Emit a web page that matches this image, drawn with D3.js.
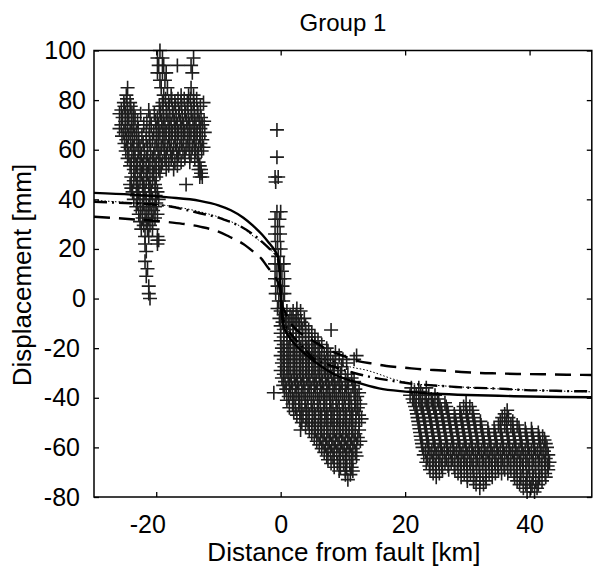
<!DOCTYPE html>
<html>
<head>
<meta charset="utf-8">
<script src="https://cdn.jsdelivr.net/npm/d3@7"></script>
<style>
  body { margin: 0; background: #fff; }
  text { font-family: "Liberation Sans", Arial, sans-serif; fill: #000; }
</style>
</head>
<body>
<svg id="chart" width="593" height="572"></svg>
<script>
// axis ticks
var xTicks = [-20, 0, 20, 40];
var yTicks = [-80, -60, -40, -20, 0, 20, 40, 60, 80, 100];

// model curves
var solidX = [-30, -24, -18, -13, -10, -8, -6, -4.5, -3, -2, -1, -0.4, -0.15, 0, 0.15, 0.4, 1, 2, 3.5, 5.5, 8.8, 12, 15.8, 20, 25, 30, 35, 40, 45, 50];
var solidY = [42.6, 41.9, 40.8, 39.4, 37.6, 35.6, 32.6, 29.5, 25.8, 22.8, 19.5, 16.5, 10, 2, -6, -10.5, -14, -17.6, -21.4, -25.5, -30.8, -33.6, -36.2, -37.5, -38.4, -38.9, -39.2, -39.5, -39.7, -39.8];

var dashX = [-30, -24, -18, -13, -10, -8.3, -6, -4.4, -3, -2.2, -1.2, -0.6, -0.2, 0, 0.2, 0.6, 1.3, 2.1, 3.5, 5, 7.3, 9.1, 11, 12.6, 15, 17, 20, 23, 26, 29, 32, 35, 38, 42, 46, 50];
var dashY = [33.0, 32.0, 30.8, 29.0, 27.0, 25.0, 22.0, 18.9, 15.8, 13.0, 9.8, 7.5, 4.5, 1, -2.5, -4.8, -8.5, -11.5, -14.5, -16.7, -20.3, -22.2, -24, -25.3, -26.3, -27.2, -27.9, -28.6, -29.0, -29.6, -30.0, -30.2, -30.4, -30.5, -30.7, -30.8];

var dashDotX = [-30, -24, -21, -18, -13, -10, -9, -6.6, -4, -1.9, -0.6, -0.2, 0, 0.2, 0.5, 1, 1.8, 2.9, 4, 5, 7.3, 9.5, 11.8, 13.7, 17, 19, 21.4, 23.3, 27.4, 29.8, 33, 37.2, 39.4, 43, 46, 50];
var dashDotY = [39.0, 38.4, 38.0, 37.2, 34.4, 32.6, 31.7, 29.3, 25.0, 20.3, 16.9, 12, 3, -5, -9, -12, -14.8, -17.9, -20.8, -23.5, -26.3, -28.3, -30.0, -31.2, -32.8, -33.6, -34.4, -34.8, -35.5, -35.9, -36.1, -36.6, -36.9, -37.1, -37.3, -37.4];

var dotX = [-30, -24, -18, -13, -9, -6.6, -4.6, -2.5, -1.2, -0.4, -0.1, 0, 0.15, 0.5, 1, 2, 3, 4.5, 6, 8, 10, 12, 13.7, 15, 18, 21, 25, 30, 35, 40, 45, 50];
var dotY = [39.6, 38.6, 37.4, 35.0, 32.0, 29.3, 25.5, 21.5, 18.5, 15.5, 10, 2, -5, -9.5, -12.3, -15.5, -18, -21.5, -23.8, -25.0, -26.8, -28.0, -28.8, -29.8, -32.4, -34.2, -35.0, -35.8, -36.4, -36.9, -37.3, -37.6];

// measured points: each row is [y, x1, x2, ...]
var westRows = [
  [100, -19.4],
  [97, -19.8, -19.0, -14.0],
  [94, -19.6, -18.8, -16.6, -14.4],
  [91, -19.8, -19.0, -18.4, -14.2],
  [88, -19.4, -18.6],
  [85, -24.6, -19.2, -18.2, -14.4],
  [82, -24.8, -18.8, -17.6, -16.0, -14.8, -14.0],
  [80.5, -24.7, -18.5, -17.5, -16.5, -15.5, -14.5, -13.5],
  [79, -25.2, -24.2, -19.0, -18.0, -17.0, -16.0, -15.0, -14.0, -12.4],
  [77.5, -25.1, -24.1, -19.5, -18.9, -17.9, -16.9, -15.9, -14.9, -13.9, -12.9],
  [76, -25.6, -24.6, -23.6, -21.2, -19.4, -18.4, -17.4, -16.4, -15.4, -14.4, -13.4],
  [74.5, -25.9, -24.9, -23.9, -22.5, -20.3, -19.3, -18.3, -17.3, -16.3, -15.3, -14.3, -13.3],
  [73, -25.4, -24.4, -23.4, -21.0, -19.8, -18.8, -17.8, -16.8, -15.8, -14.8, -13.8, -12.8],
  [71.5, -25.0, -24.0, -23.0, -21.5, -20.1, -19.1, -18.1, -17.1, -16.1, -15.1, -14.1, -13.1, -12.3],
  [70, -25.6, -24.6, -23.6, -22.0, -20.8, -19.6, -18.6, -17.6, -16.6, -15.6, -14.6, -13.6, -12.6],
  [68.5, -25.9, -24.9, -23.9, -22.9, -21.1, -19.9, -18.9, -17.9, -16.9, -15.9, -14.9, -13.9, -12.9],
  [67, -25.2, -24.2, -23.2, -21.6, -20.4, -19.4, -18.4, -17.4, -16.4, -15.4, -14.4, -13.4, -12.2],
  [65.5, -25.5, -24.5, -23.5, -22.3, -21.1, -20.0, -19.0, -18.0, -17.0, -16.0, -15.0, -14.0, -13.0],
  [64, -24.8, -23.8, -22.8, -21.6, -20.6, -19.6, -18.6, -17.6, -16.6, -15.6, -14.6, -13.6, -12.6],
  [62.5, -25.1, -24.1, -23.1, -22.1, -21.0, -19.9, -18.9, -17.9, -16.9, -15.9, -14.9, -13.9, -12.9],
  [61, -24.6, -23.6, -22.6, -21.4, -20.2, -19.2, -18.2, -17.2, -16.2, -15.2, -14.2, -13.2, -12.4],
  [59.5, -24.9, -23.9, -22.9, -21.9, -20.9, -19.7, -18.7, -17.7, -16.7, -15.7, -14.7, -13.7, -12.7],
  [58, -24.4, -23.4, -22.4, -21.4, -20.4, -19.4, -18.4, -17.4, -16.4, -15.4, -14.4, -13.4],
  [56.5, -24.6, -23.6, -22.6, -21.6, -20.6, -19.6, -18.6, -17.6, -16.6, -15.4, -13.8],
  [55, -24.0, -23.0, -22.0, -21.0, -20.0, -19.0, -18.0, -17.0, -16.0, -14.6, -13.2],
  [53.5, -24.2, -23.2, -22.2, -21.2, -20.2, -19.2, -18.0, -16.6, -13.0],
  [52, -23.6, -22.6, -21.6, -20.6, -19.6, -18.4, -17.2, -13.2, -12.8],
  [50.5, -23.4, -22.4, -21.4, -20.4, -19.4, -12.8],
  [49, -24.0, -23.0, -22.0, -21.0, -20.0, -13.0, -12.6],
  [47.5, -23.6, -22.6, -21.6, -20.6],
  [46, -24.2, -23.2, -22.2, -21.2, -20.2, -15.2],
  [44.5, -24.0, -23.0, -22.0, -21.0, -20.1],
  [43, -23.8, -22.8, -21.8, -20.8, -19.8],
  [41.5, -23.1, -22.1, -21.1, -20.1],
  [40, -23.6, -22.6, -21.6, -20.6, -19.6],
  [38.5, -23.0, -22.0, -21.0, -20.0],
  [37, -23.2, -22.2, -21.2, -20.2],
  [35.5, -22.5, -21.5, -20.5],
  [34, -22.8, -21.8, -20.8, -19.8],
  [32.5, -22.2, -21.2, -20.2],
  [31, -22.6, -21.6, -20.6],
  [29.5, -22.0, -21.0],
  [28, -22.4, -21.4, -20.6],
  [25, -21.8, -21.2, -19.8],
  [23.5, -19.8, -19.6],
  [22, -21.8, -19.8],
  [19, -21.6],
  [15, -21.8],
  [12, -21.4],
  [9, -21.6],
  [5, -21.2],
  [2, -21.2],
  [0, -21.0]
];

var faultRows = [
  [68, -0.6], [57, -0.6], [49, -0.9, -0.4], [47, -0.8],
  [35, -0.6, 0.0], [32, -0.9, -0.2], [29, -0.5], [26, -0.9, -0.1],
  [23, -0.5], [20, -0.8, 0.0], [17, -0.4], [14, -0.9, -0.1, 0.5],
  [11, -0.6, 0.2], [8, -0.9, -0.1, 0.6], [5, -0.5, 0.3],
  [2, -0.8, 0.0, 0.6], [-1, -0.3, 0.4], [-4, -0.5, 0.3, 2.6]
];

var midRows = [
  [-5, 0.0, 1.0, 2.0, 3.2],
  [-6.5, 0.5, 1.5, 2.5],
  [-8, -0.2, 0.8, 1.8, 2.8, 3.8],
  [-9.5, 0.3, 1.3, 2.3, 3.3],
  [-11, 0.0, 1.0, 2.0, 3.0, 4.0],
  [-12.5, 0.5, 1.5, 2.5, 3.5, 4.5],
  [-12.7, 8.1],
  [-14, 0.0, 1.0, 2.0, 3.0, 4.0, 5.0],
  [-15.5, 0.5, 1.5, 2.5, 3.5, 4.5, 5.5],
  [-17, 0.0, 1.0, 2.0, 3.0, 4.0, 5.0, 6.0],
  [-18.5, 0.5, 1.5, 2.5, 3.5, 4.5, 5.5, 6.6],
  [-20, 0.2, 1.2, 2.2, 3.2, 4.2, 5.2, 6.2, 7.4],
  [-21.5, 0.6, 1.6, 2.6, 3.6, 4.6, 5.6, 6.6, 7.6, 8.8],
  [-23, 0.0, 1.0, 2.0, 3.0, 4.0, 5.0, 6.0, 7.0, 8.0, 9.4, 12.2],
  [-24.5, 0.5, 1.5, 2.5, 3.5, 4.5, 5.5, 6.5, 7.5, 8.8, 10.0, 11.8],
  [-26, 0.2, 1.2, 2.2, 3.2, 4.2, 5.2, 6.2, 7.2, 8.4, 10.6],
  [-27.5, 0.6, 1.6, 2.6, 3.6, 4.6, 5.6, 6.6, 7.6, 8.6, 9.8],
  [-29, 0.0, 1.0, 2.0, 3.0, 4.0, 5.0, 6.0, 7.0, 8.0, 9.2],
  [-30.5, 0.5, 1.5, 2.5, 3.5, 4.5, 5.5, 6.5, 7.5, 8.5, 9.6, 10.8],
  [-32, 0.2, 1.2, 2.2, 3.2, 4.2, 5.2, 6.2, 7.2, 8.2, 9.2, 10.4, 11.4],
  [-33.5, 0.7, 1.7, 2.7, 3.7, 4.7, 5.7, 6.7, 7.7, 8.7, 9.7, 10.7, 11.8],
  [-35, 0.4, 1.4, 2.4, 3.4, 4.4, 5.4, 6.4, 7.4, 8.4, 9.4, 10.4, 11.6],
  [-36.5, 0.9, 1.9, 2.9, 3.9, 4.9, 5.9, 6.9, 7.9, 8.9, 9.9, 10.9, 12.0],
  [-38, -1.1, 0.6, 1.6, 2.6, 3.6, 4.6, 5.6, 6.6, 7.6, 8.6, 9.6, 10.6, 11.8, 12.6],
  [-39.5, 1.3, 2.3, 3.3, 4.3, 5.3, 6.3, 7.3, 8.3, 9.3, 10.3, 11.3, 12.3],
  [-41, 1.0, 2.0, 3.0, 4.0, 5.0, 6.0, 7.0, 8.0, 9.0, 10.0, 11.0, 12.0],
  [-42.5, 1.9, 2.9, 3.9, 4.9, 5.9, 6.9, 7.9, 8.9, 9.9, 10.9, 11.9, 12.8],
  [-44, 1.4, 2.4, 3.4, 4.4, 5.4, 6.4, 7.4, 8.4, 9.4, 10.4, 11.4, 12.4],
  [-45.5, 2.1, 3.1, 4.1, 5.1, 6.1, 7.1, 8.1, 9.1, 10.1, 11.1, 12.1],
  [-47, 2.6, 3.6, 4.6, 5.6, 6.6, 7.6, 8.6, 9.6, 10.6, 11.6, 12.6],
  [-48.5, 3.1, 4.1, 5.1, 6.1, 7.1, 8.1, 9.1, 10.1, 11.1, 12.1, 13.0],
  [-50, 3.4, 4.4, 5.4, 6.4, 7.4, 8.4, 9.4, 10.4, 11.4, 12.6],
  [-51.5, 4.0, 5.0, 6.0, 7.0, 8.0, 9.0, 10.0, 11.0, 12.0],
  [-53, 3.2, 4.6, 5.6, 6.6, 7.6, 8.6, 9.6, 10.6, 11.6, 12.6],
  [-54.5, 5.0, 6.0, 7.0, 8.0, 9.0, 10.0, 11.0, 12.0],
  [-56, 5.4, 6.4, 7.4, 8.4, 9.4, 10.4, 11.4, 12.4],
  [-57.5, 5.8, 6.8, 7.8, 8.8, 9.8, 10.8, 11.8, 12.8],
  [-59, 6.2, 7.2, 8.2, 9.2, 10.2, 11.2, 12.2],
  [-60.5, 6.6, 7.6, 8.6, 9.6, 10.6, 11.6],
  [-62, 7.0, 8.0, 9.0, 10.0, 11.0, 12.0],
  [-63.5, 7.4, 8.4, 9.4, 10.4, 11.4, 12.2],
  [-65, 7.6, 8.6, 9.6, 10.6, 11.6],
  [-66.5, 8.1, 9.1, 10.1, 11.1],
  [-68, 8.6, 9.6, 10.6, 11.4],
  [-69.5, 9.4, 10.4, 11.6],
  [-71, 10.4, 11.2],
  [-73, 10.8]
];

var eastRows = [
  [-36, 21.0, 22.2, 23.4],
  [-37.5, 21.5, 22.5],
  [-39, 20.8, 21.8, 22.8, 23.8, 24.8],
  [-40.5, 21.2, 22.2, 23.2, 24.2, 25.2],
  [-42, 21.4, 22.4, 23.4, 24.4, 25.4, 26.4, 29.8],
  [-43.5, 21.6, 22.6, 23.6, 24.6, 25.6, 26.6, 29.4, 30.4],
  [-45, 21.8, 22.8, 23.8, 24.8, 25.8, 26.8, 28.8, 29.8, 30.8, 36.4],
  [-46.5, 21.9, 22.9, 23.9, 24.9, 25.9, 26.9, 27.9, 28.9, 29.9, 30.9, 36.0],
  [-48, 22.0, 23.0, 24.0, 25.0, 26.0, 27.0, 28.0, 29.0, 30.0, 31.0, 35.6, 36.6],
  [-49.5, 22.1, 23.1, 24.1, 25.1, 26.1, 27.1, 28.1, 29.1, 30.1, 31.1, 32.1, 35.3, 36.3, 37.3],
  [-51, 22.2, 23.2, 24.2, 25.2, 26.2, 27.2, 28.2, 29.2, 30.2, 31.2, 32.2, 35.0, 36.0, 37.0, 38.0],
  [-52.5, 22.3, 23.3, 24.3, 25.3, 26.3, 27.3, 28.3, 29.3, 30.3, 31.3, 32.3, 33.3, 34.3, 35.3, 36.3, 37.3, 38.3, 39.3, 40.3],
  [-54, 22.4, 23.4, 24.4, 25.4, 26.4, 27.4, 28.4, 29.4, 30.4, 31.4, 32.4, 33.4, 34.4, 35.4, 36.4, 37.4, 38.4, 39.4, 40.4, 41.4],
  [-55.5, 22.5, 23.5, 24.5, 25.5, 26.5, 27.5, 28.5, 29.5, 30.5, 31.5, 32.5, 33.5, 34.5, 35.5, 36.5, 37.5, 38.5, 39.5, 40.5, 41.5, 42.1],
  [-57, 22.6, 23.6, 24.6, 25.6, 26.6, 27.6, 28.6, 29.6, 30.6, 31.6, 32.6, 33.6, 34.6, 35.6, 36.6, 37.6, 38.6, 39.6, 40.6, 41.6, 42.4],
  [-58.5, 22.7, 23.7, 24.7, 25.7, 26.7, 27.7, 28.7, 29.7, 30.7, 31.7, 32.7, 33.7, 34.7, 35.7, 36.7, 37.7, 38.7, 39.7, 40.7, 41.7, 42.6],
  [-60, 22.8, 23.8, 24.8, 25.8, 26.8, 27.8, 28.8, 29.8, 30.8, 31.8, 32.8, 33.8, 34.8, 35.8, 36.8, 37.8, 38.8, 39.8, 40.8, 41.8, 42.8],
  [-61.5, 23.3, 24.3, 25.3, 26.3, 27.3, 28.3, 29.3, 30.3, 31.3, 32.3, 33.3, 34.3, 35.3, 36.3, 37.3, 38.3, 39.3, 40.3, 41.3, 42.3],
  [-63, 23.0, 24.0, 25.0, 26.0, 27.0, 28.0, 29.0, 30.0, 31.0, 32.0, 33.0, 34.0, 35.0, 36.0, 37.0, 38.0, 39.0, 40.0, 41.0, 42.0, 43.0],
  [-64.5, 23.6, 24.6, 25.6, 26.6, 27.6, 28.6, 29.6, 30.6, 31.6, 32.6, 33.6, 34.6, 35.6, 36.6, 37.6, 38.6, 39.6, 40.6, 41.6, 42.6],
  [-66, 23.4, 24.4, 25.4, 26.4, 27.4, 28.4, 29.4, 30.4, 31.4, 32.4, 33.4, 34.4, 35.4, 36.4, 37.4, 38.4, 39.4, 40.4, 41.4, 42.4, 43.2],
  [-67.5, 23.9, 24.9, 25.9, 26.9, 27.9, 28.9, 29.9, 30.9, 31.9, 32.9, 33.9, 34.9, 35.9, 36.9, 37.9, 38.9, 39.9, 40.9, 41.9, 42.9],
  [-69, 24.0, 25.0, 26.0, 27.0, 28.0, 29.0, 30.0, 31.0, 32.0, 33.0, 34.0, 35.0, 36.0, 37.0, 38.0, 39.0, 40.0, 41.0, 42.0, 43.0],
  [-70.5, 24.5, 25.5, 28.5, 29.5, 30.5, 31.5, 32.5, 33.5, 34.5, 35.5, 36.5, 37.5, 38.5, 39.5, 40.5, 41.5, 42.5],
  [-72, 25.0, 29.0, 30.0, 31.0, 32.0, 33.0, 34.0, 37.6, 38.6, 39.6, 40.6, 41.6, 42.6],
  [-73.5, 30.0, 31.0, 32.0, 33.0, 38.0, 39.0, 40.0, 41.0, 42.0],
  [-75, 31.4, 32.6, 38.4, 39.4, 40.4, 41.4],
  [-76.5, 32.0, 39.0, 40.2, 41.2],
  [-78, 39.6, 40.8]
];

//plot box in pixels
var margin = {top: 50.5, right: 1.2, bottom: 75, left: 94},
    width = 593 - margin.left - margin.right,
    height = 572 - margin.top - margin.bottom;

var x = d3.scaleLinear().domain([-30, 50]).range([0, width]);
var y = d3.scaleLinear().domain([-80, 100]).range([height, 0]);

var svg = d3.select("#chart")
    .append("g")
    .attr("transform", "translate(" + margin.left + "," + margin.top + ")");

//flatten the rows into points
function toPoints(rows) {
    return rows.flatMap(function(r) {
        return r.slice(1).map(function(v) { return {x: v, y: r[0]}; });
    });
}
var points = [].concat(toPoints(westRows), toPoints(faultRows), toPoints(midRows), toPoints(eastRows));

//plus markers
svg.append("g")
    .selectAll("path")
    .data(points)
    .enter().append("path")
    .attr("transform", function(d) { return "translate(" + x(d.x) + "," + y(d.y) + ")"; })
    .attr("d", "M-7,0H7M0,-7V7")
    .attr("stroke", "#1e1e1e")
    .attr("stroke-width", 1.6)
    .attr("fill", "none");

//model curves
var curves = [
    {xs: dashX, ys: dashY, w: 2.4, dash: "16,9"},
    {xs: dotX, ys: dotY, w: 1, dash: "1.5,2"},
    {xs: dashDotX, ys: dashDotY, w: 2.4, dash: "13,5,2,5"},
    {xs: solidX, ys: solidY, w: 2.4, dash: null}
];
var line = d3.line()
    .x(function(d) { return x(d[0]); })
    .y(function(d) { return y(d[1]); })
    .curve(d3.curveMonotoneX);

curves.forEach(function(c) {
    svg.append("path")
        .datum(d3.zip(c.xs, c.ys))
        .attr("d", line)
        .attr("fill", "none")
        .attr("stroke", "#000")
        .attr("stroke-width", c.w)
        .attr("stroke-dasharray", c.dash);
});

//axes with inward ticks, plain hyphen for minus
var fmt = function(d) { return String(d); };
var xAxis = svg.append("g")
    .attr("transform", "translate(0," + height + ")")
    .call(d3.axisBottom(x).tickValues(xTicks).tickFormat(fmt).tickSizeInner(-5).tickSizeOuter(0).tickPadding(18));
svg.append("g")
    .call(d3.axisTop(x).tickValues(xTicks).tickSizeInner(-5).tickSizeOuter(0).tickFormat(""));
var yAxis = svg.append("g")
    .call(d3.axisLeft(y).tickValues(yTicks).tickFormat(fmt).tickSizeInner(-5).tickSizeOuter(0).tickPadding(8));
svg.append("g")
    .attr("transform", "translate(" + width + ",0)")
    .call(d3.axisRight(y).tickValues(yTicks).tickSizeInner(-5).tickSizeOuter(0).tickFormat(""));

svg.selectAll(".domain").remove();
svg.selectAll(".tick line").attr("stroke", "#000").attr("stroke-width", 1.3);
svg.selectAll(".tick text").attr("font-size", 25).attr("font-family", null);
//negative labels sit a bit further left in the original
xAxis.selectAll(".tick text").attr("dx", function(d) { return d < 0 ? -9 : 0; });
yAxis.selectAll(".tick text").attr("dx", function(d) { return d < 0 ? -6 : 0; });

//frame
svg.append("rect")
    .attr("width", width)
    .attr("height", height)
    .attr("fill", "none")
    .attr("stroke", "#000")
    .attr("stroke-width", 1.5);

//labels
svg.append("text")
    .attr("x", width / 2)
    .attr("y", 31 - margin.top)
    .attr("text-anchor", "middle")
    .attr("font-size", 24)
    .text("Group 1");

svg.append("text")
    .attr("x", width / 2 + 1)
    .attr("y", 561 - margin.top)
    .attr("text-anchor", "middle")
    .attr("font-size", 26)
    .text("Distance from fault [km]");

svg.append("text")
    .attr("transform", "translate(" + (31 - margin.left) + "," + (275 - margin.top) + ") rotate(-90)")
    .attr("text-anchor", "middle")
    .attr("font-size", 26)
    .text("Displacement [mm]");
</script>
</body>
</html>
